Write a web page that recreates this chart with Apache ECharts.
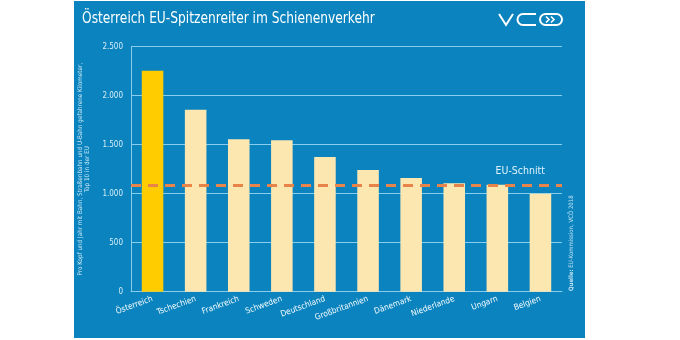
<!DOCTYPE html>
<html>
<head>
<meta charset="utf-8">
<script src="https://cdn.jsdelivr.net/npm/echarts@6/dist/echarts.min.js"></script>
<style>
  html, body { margin: 0; padding: 0; background: #ffffff; }
  #chart { width: 680px; height: 340px; }
</style>
</head>
<body>
<div id="chart"></div>
<script>
// Rail kilometres per head and year (train, tram, metro), top 10 EU countries
const countries = ['Österreich', 'Tschechien', 'Frankreich', 'Schweden', 'Deutschland',
  'Großbritannien', 'Dänemark', 'Niederlande', 'Ungarn', 'Belgien'];
const kmPerCapita = [2255, 1857, 1555, 1545, 1374, 1242, 1160, 1106, 1092, 1000];
const euAverage = 1090;
const yMin = 0;
const yMax = 2500;
const yStep = 500;

const FONT = "'Liberation Sans Narrow', 'DejaVu Sans Condensed', sans-serif";
const PANEL = '#0b83be';
const GRID_LINE = '#86cdee';
const HIGHLIGHT = '#ffcc00';
const BAR = '#fde7b0';
const DASH = '#e8834a';

function thousands(v) {
  if (v < 1000) return String(v);
  return Math.floor(v / 1000) + '.' + String(v % 1000).padStart(3, '0');
}

const chart = echarts.init(document.getElementById('chart'), null, { renderer: 'canvas' });

chart.setOption({
  backgroundColor: '#ffffff',
  animation: false,
  textStyle: { fontFamily: FONT },
  grid: { left: 131, right: 118, top: 46.7, bottom: 48.3, outerBoundsMode: 'none' },
  graphic: [
    // blue panel behind everything
    { type: 'rect', z: -10, silent: true,
      shape: { x: 74, y: 1, width: 511, height: 337 },
      style: { fill: PANEL } },
    // condensed title
    { type: 'text', x: 82, y: 19, scaleX: 0.85, z: 10,
      style: { text: 'Österreich EU-Spitzenreiter im Schienenverkehr',
        fill: '#ffffff', font: '16px ' + FONT, verticalAlign: 'middle', align: 'left' } },
    // VCÖ wordmark
    { type: 'group', z: 10, children: [
      { type: 'polyline', shape: { points: [[499, 14], [506, 25], [513, 14]] },
        style: { stroke: '#ffffff', lineWidth: 2, fill: null } },
      { type: 'polyline', shape: { points: [[536, 14], [523, 14]] },
        style: { stroke: '#ffffff', lineWidth: 2 } },
      { type: 'arc', shape: { cx: 523, cy: 19.5, r: 5.5, startAngle: Math.PI / 2, endAngle: Math.PI * 1.5, clockwise: true },
        style: { stroke: '#ffffff', lineWidth: 2, fill: null } },
      { type: 'polyline', shape: { points: [[523, 25], [536, 25]] },
        style: { stroke: '#ffffff', lineWidth: 2 } },
      { type: 'rect', shape: { x: 540, y: 14, width: 22, height: 11, r: 5.5 },
        style: { stroke: '#ffffff', lineWidth: 2, fill: null } },
      { type: 'polyline', shape: { points: [[546, 16.5], [549, 19.5], [546, 22.5]] },
        style: { stroke: '#ffffff', lineWidth: 1.6, fill: null } },
      { type: 'polyline', shape: { points: [[551, 16.5], [554, 19.5], [551, 22.5]] },
        style: { stroke: '#ffffff', lineWidth: 1.6, fill: null } }
    ] },
    // source note, reading bottom to top
    { type: 'text', x: 571, y: 291, rotation: Math.PI / 2, z: 10,
      style: { text: '{b|Quelle:} EU-Kommission, VCÖ 2018', align: 'left', verticalAlign: 'middle',
        fill: '#bfe2f3', font: '6px ' + FONT,
        rich: { b: { fontWeight: 'bold', fontSize: 6, fill: '#bfe2f3', fontFamily: FONT } } } }
  ],
  xAxis: {
    type: 'category',
    data: countries,
    axisLine: { lineStyle: { color: GRID_LINE, width: 1 } },
    axisTick: { show: false },
    axisLabel: { rotate: 20, margin: 7, color: '#f4fbfe', fontSize: 8.3, fontWeight: 'normal', fontFamily: FONT, interval: 0 }
  },
  yAxis: {
    type: 'value',
    min: yMin, max: yMax, interval: yStep,
    name: 'Pro Kopf und Jahr mit Bahn, Straßenbahn und U-Bahn gefahrene Kilometer,\nTop 10 in der EU',
    nameLocation: 'middle', nameRotate: 90, nameGap: 27,
    nameTextStyle: { color: '#cde9f6', fontSize: 6.3, lineHeight: 7.5, fontFamily: FONT, align: 'center' },
    axisLine: { show: true, lineStyle: { color: GRID_LINE, width: 1 } },
    axisTick: { show: false },
    splitLine: { lineStyle: { color: GRID_LINE, width: 1 } },
    axisLabel: { formatter: thousands, color: '#d6eef9', fontSize: 8, margin: 8, fontFamily: FONT }
  },
  series: [{
    type: 'bar',
    barWidth: '50%',
    data: kmPerCapita.map((v, i) => ({ value: v, itemStyle: { color: i === 0 ? HIGHLIGHT : BAR } })),
    markLine: {
      silent: true,
      symbol: ['none', 'none'],
      lineStyle: { color: DASH, type: [10, 7], width: 3 },
      label: { show: true, position: 'insideEndTop', formatter: 'EU-Schnitt',
        color: '#dff3fc', fontSize: 10.5, fontFamily: FONT, distance: [17, 8] },
      data: [{ yAxis: euAverage }]
    }
  }]
});
</script>
</body>
</html>
